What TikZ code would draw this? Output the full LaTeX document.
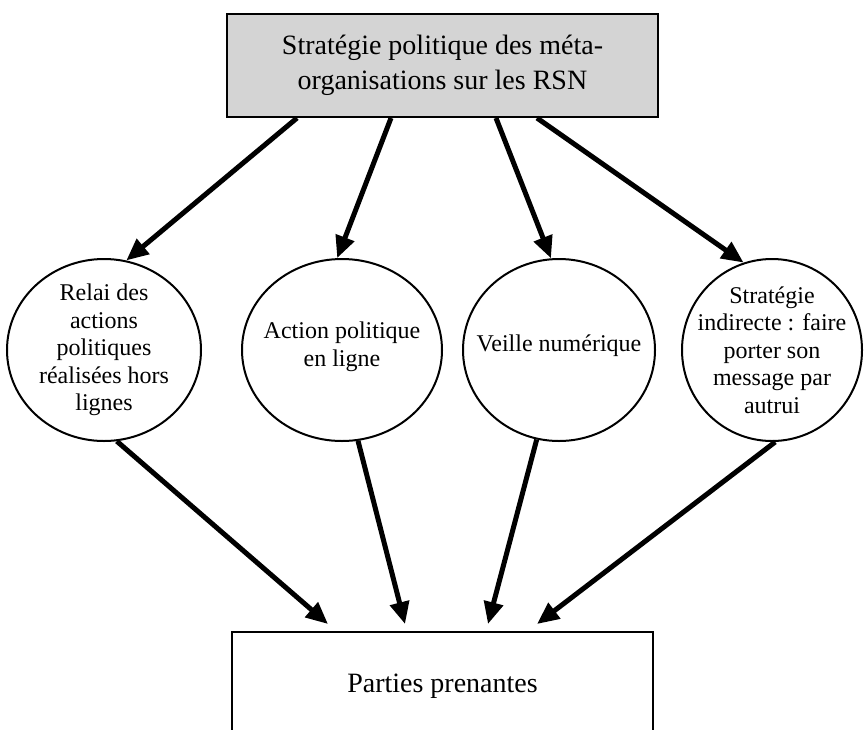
\documentclass[tikz,border=0pt]{standalone}
\usepackage{fontspec}
\setmainfont{Liberation Serif}
\usetikzlibrary{shapes.geometric, arrows.meta}
\definecolor{headgray}{RGB}{212,212,212}
\tikzset{
    headbox/.style={
        rectangle,
        draw=black,
        line width=2pt,
        fill=headgray,
        minimum width=431pt,
        minimum height=103pt,
        inner sep=0pt,
        align=center,
        font=\fontsize{28}{35}\selectfont
    },
    footbox/.style={
        rectangle,
        draw=black,
        line width=2pt,
        minimum width=421pt,
        minimum height=108pt,
        inner sep=0pt,
        align=center,
        font=\fontsize{28}{35}\selectfont
    },
    axis/.style={
        ellipse,
        draw=black,
        line width=2pt,
        inner sep=-20pt,
        minimum height=182pt,
        align=center,
        font=\fontsize{24}{27.5}\selectfont
    },
    arrow/.style={
        line width=5pt,
        -{Triangle[length=22pt,width=19pt]}
    }
}

\begin{document}
\begin{tikzpicture}[x=1pt, y=1pt]

\useasboundingbox (0,0) rectangle (864,-729);

\node (strat) [headbox] at (442.5,-65.5) {Stratégie politique des méta-\\organisations sur les RSN};

\node (relai) [axis, minimum width=194pt] at (104,-350) {Relai des\\actions\\politiques\\réalisées hors\\lignes};
\node (action) [axis, minimum width=200pt] at (342,-350) {Action politique\\en ligne\\[-15.5pt]};
\node (veille) [axis, minimum width=192pt] at (559,-350) {Veille numérique\\[-14pt]};
\node (indirect) [axis, minimum width=180pt] at (772,-350) {Stratégie\\indirecte : faire\\porter son\\message par\\autrui};

\node (parties) [footbox] at (442.5,-686) {Parties prenantes};

\draw [arrow] ([xshift=-145.5pt]strat.south) -- (relai.76);
\draw [arrow] ([xshift=-51.5pt]strat.south) -- (action.93);
\draw [arrow] ([xshift=53.5pt]strat.south) -- (veille.95);
\draw [arrow] ([xshift=94.5pt]strat.south) -- (indirect.108);

\draw [arrow] (relai.278) -- ([xshift=-114.5pt, yshift=7pt]parties.north);
\draw [arrow] (action.280) -- ([xshift=-37.5pt, yshift=7pt]parties.north);
\draw [arrow] (veille.256) -- ([xshift=45.5pt, yshift=7pt]parties.north);
\draw [arrow] (indirect.272) -- ([xshift=94.5pt, yshift=7pt]parties.north);

\end{tikzpicture}
\end{document}
